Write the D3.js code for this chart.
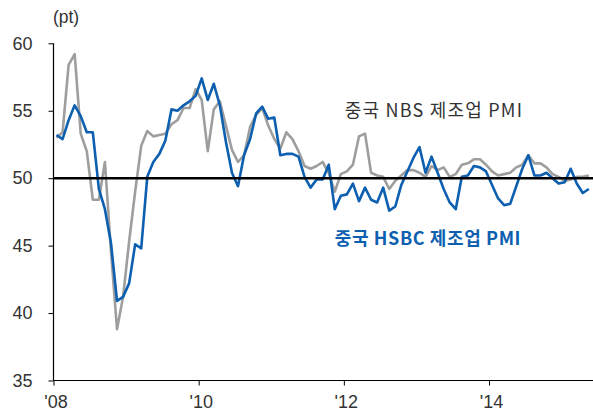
<!DOCTYPE html>
<html><head><meta charset="utf-8">
<script src="https://cdn.jsdelivr.net/npm/d3@7"></script>
<style>
html,body{margin:0;padding:0;background:#fff;}
svg{display:block;}
</style></head>
<body>
<svg id="c" width="593" height="412"></svg>
<script>
// Monthly data, Jan 2008 – May 2015
const years = ["'08", "'10", "'12", "'14"];
const yearTickMonths = [0, 24, 48, 72];
const yTicks = [35, 40, 45, 50, 55, 60];
const nbsPMI = [
  53.0, 53.4, 58.4, 59.2, 53.3, 52.0, 48.4, 48.4, 51.2, 44.6, 38.8, 41.2,
  45.3, 49.0, 52.4, 53.5, 53.1, 53.2, 53.3, 54.0, 54.3, 55.2, 55.2, 56.6,
  55.8, 52.0, 55.1, 55.7, 53.9, 52.1, 51.2, 51.7, 53.8, 54.7, 55.2, 53.9,
  52.9, 52.2, 53.4, 52.9, 52.0, 50.9, 50.7, 50.9, 51.2, 50.4, 49.0, 50.3,
  50.5, 51.0, 53.1, 53.3, 50.4, 50.2, 50.1, 49.2, 49.8, 50.2, 50.6, 50.6,
  50.4, 50.1, 50.9, 50.6, 50.8, 50.1, 50.3, 51.0, 51.1, 51.4, 51.4, 51.0,
  50.5, 50.2, 50.3, 50.4, 50.8, 51.0, 51.7, 51.1, 51.1, 50.8, 50.3, 50.1,
  49.8, 49.9, 50.1, 50.1, 50.2
];
const hsbcPMI = [
  53.2, 52.9, 54.3, 55.4, 54.6, 53.4, 53.4, 49.2, 47.7, 45.2, 40.9, 41.2,
  42.2, 45.1, 44.8, 50.1, 51.2, 51.8, 52.8, 55.1, 55.0, 55.4, 55.7, 56.1,
  57.4, 55.8, 57.0, 55.4, 52.7, 50.4, 49.4, 51.7, 52.9, 54.8, 55.3, 54.4,
  54.5, 51.7, 51.8, 51.8, 51.6, 50.1, 49.3, 49.9, 49.9, 51.0, 47.7, 48.7,
  48.8, 49.6, 48.3, 49.3, 48.4, 48.2, 49.3, 47.6, 47.9, 49.5, 50.5, 51.5,
  52.3, 50.4, 51.6, 50.4, 49.2, 48.2, 47.7, 50.1, 50.2, 50.9, 50.8, 50.5,
  49.5, 48.5, 48.0, 48.1, 49.4, 50.7, 51.7, 50.2, 50.2, 50.4, 50.0, 49.6,
  49.7, 50.7, 49.6, 48.9, 49.2
];
const refLevel = 50;
const nbsLabel = "중국 NBS 제조업 PMI";
const hsbcLabel = "중국 HSBC 제조업 PMI";
const unitLabel = "(pt)";

const svg = d3.select("#c");
const padL = 53.5, padT = 43.3, baseY = 380.5;
const monthW = 6.049;
const x = d3.scaleLinear().domain([0, 90]).range([padL, padL + 90 * monthW]);
const y = d3.scaleLinear().domain([35, 60]).range([baseY, padT]);

// axes
const yAxis = d3.axisLeft(y).tickValues(yTicks).tickSize(5).tickPadding(16);
const gy = svg.append("g").attr("transform", `translate(${padL},0)`).call(yAxis);
gy.select(".domain").remove();
gy.selectAll(".tick line").attr("stroke", "#000");
gy.selectAll("text").attr("font-family", "'Liberation Sans', Arial, sans-serif")
  .attr("font-size", 18).attr("fill", "#333");
svg.append("line").attr("x1", padL).attr("x2", padL).attr("y1", padT).attr("y2", baseY)
  .attr("stroke", "#000").attr("stroke-width", 1.2);

const xAxis = d3.axisBottom(x).tickValues(yearTickMonths).tickSize(5).tickPadding(10)
  .tickFormat((d, i) => years[i]);
const gx = svg.append("g").attr("transform", `translate(0,${baseY})`).call(xAxis);
gx.select(".domain").remove();
gx.selectAll(".tick line").attr("stroke", "#000");
gx.selectAll("text").attr("font-family", "'Liberation Sans', Arial, sans-serif")
  .attr("font-size", 18).attr("fill", "#333").attr("dx", 2);
svg.append("line").attr("x1", padL).attr("x2", 593).attr("y1", baseY).attr("y2", baseY)
  .attr("stroke", "#000").attr("stroke-width", 1.2);

svg.append("text").attr("x", 66).attr("y", 23).attr("text-anchor", "middle")
  .attr("font-family", "'Liberation Sans', Arial, sans-serif").attr("font-size", 17.5)
  .attr("fill", "#333").text(unitLabel);

// lines
const line = d3.line().x((d, i) => x(i + 0.5)).y(d => y(d));
svg.append("path").datum(nbsPMI).attr("d", line).attr("fill", "none")
  .attr("stroke", "#9e9e9e").attr("stroke-width", 2.6).attr("stroke-linejoin", "round");
svg.append("path").datum(hsbcPMI).attr("d", line).attr("fill", "none")
  .attr("stroke", "#0d5fb0").attr("stroke-width", 2.6).attr("stroke-linejoin", "round");

svg.append("line").attr("x1", padL).attr("x2", 593).attr("y1", y(refLevel)).attr("y2", y(refLevel))
  .attr("stroke", "#000").attr("stroke-width", 2.6);

// labels
svg.append("text").attr("x", 434).attr("y", 117).attr("text-anchor", "middle")
  .attr("font-family", "'Noto Sans CJK KR', sans-serif").attr("font-size", 18)
  .attr("letter-spacing", 1.2).attr("fill", "#333").text(nbsLabel);
svg.append("text").attr("x", 428).attr("y", 245).attr("text-anchor", "middle")
  .attr("font-family", "'Noto Sans CJK KR', sans-serif").attr("font-size", 18)
  .attr("letter-spacing", 0.6).attr("font-weight", "bold").attr("fill", "#0d5fb0").text(hsbcLabel);
</script>
</body></html>
